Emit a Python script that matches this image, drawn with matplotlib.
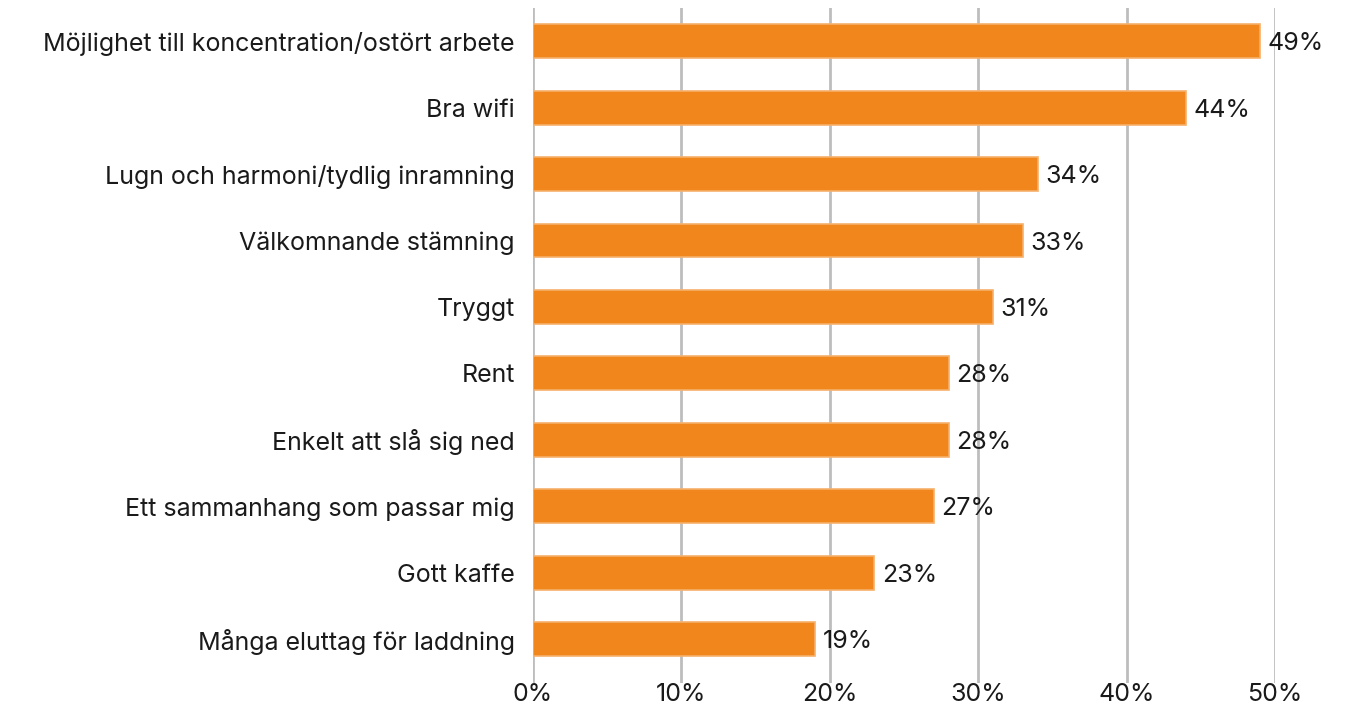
import matplotlib.pyplot as plt
import numpy as np

categories = [
    "Möjlighet till koncentration/ostört arbete",
    "Bra wifi",
    "Lugn och harmoni/tydlig inramning",
    "Välkomnande stämning",
    "Tryggt",
    "Rent",
    "Enkelt att slå sig ned",
    "Ett sammanhang som passar mig",
    "Gott kaffe",
    "Många eluttag för laddning",
]
values = [49, 44, 34, 33, 31, 28, 28, 27, 23, 19]
xticks = [0, 10, 20, 30, 40, 50]

BAR = "#F0861C"
EDGE = "#F6B06A"
GRID = "#BDBDBD"
TEXT = "#1a1a1a"
FS = 18

plt.rcParams["font.family"] = ["Inter", "DejaVu Sans"]

fig = plt.figure(figsize=(13.51, 7.08), dpi=100)
ax = fig.add_axes([533 / 1351, 1 - 683 / 708, (1275 - 533) / 1351, (683 - 8) / 708])

y = np.arange(len(categories))
ax.barh(y, values, height=0.51, color=BAR, edgecolor=EDGE, linewidth=1.2, zorder=3)

for yi, v in zip(y, values):
    ax.text(v + 0.5, yi, f"{v}%", va="center_baseline", ha="left", fontsize=FS,
            color=TEXT, zorder=4)

ax.set_xlim(0, 50)
ax.set_ylim(9.66, -0.5)
ax.set_xticks(xticks)
ax.set_xticklabels([f"{t}%" for t in xticks], fontsize=FS, color=TEXT)
ax.set_yticks(y)
ax.set_yticklabels(categories, fontsize=FS, color=TEXT)
ax.tick_params(axis="both", length=0)
ax.tick_params(axis="y", pad=13)
ax.tick_params(axis="x", pad=0)

ax.grid(axis="x", color=GRID, linewidth=2, zorder=0)
ax.set_axisbelow(True)
for s in ax.spines.values():
    s.set_visible(False)

fig.savefig("out.png", dpi=100, facecolor="white")
